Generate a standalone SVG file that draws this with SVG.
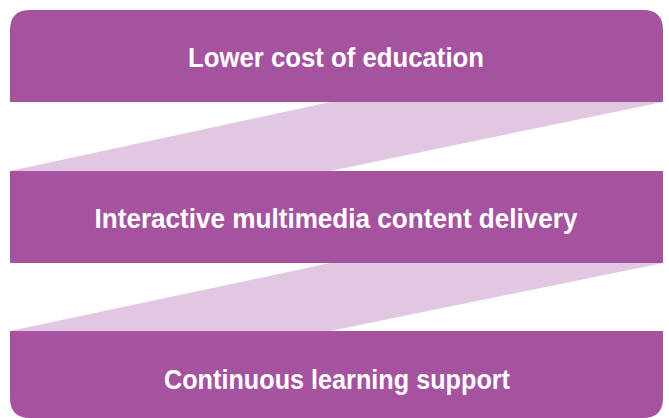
<svg xmlns="http://www.w3.org/2000/svg" width="669" height="418" viewBox="0 0 669 418">
<style>
.box{fill:#A5539F}
.rib{fill:#E1C7E1}
.t{fill:#FFFFFF;font-family:"Liberation Sans Narrow","Liberation Sans",Arial,sans-serif;font-weight:bold;font-size:27px;text-anchor:middle}
</style>
<rect width="669" height="418" fill="#FFFFFF"/>
<g id="connectors">
<polygon class="rib" points="330,102 663,102 330,171 10,171"/>
<polygon class="rib" points="330,263 663,263 330,331 10,331"/>
</g>
<g id="node1">
<path class="box" d="M10,102 L10,30 Q10,10 30,10 L643,10 Q663,10 663,30 L663,102 Z"/>
<text class="t" x="336" y="67" textLength="296" lengthAdjust="spacingAndGlyphs">Lower cost of education</text>
</g>
<g id="node2">
<rect class="box" x="10" y="171" width="653" height="92"/>
<text class="t" x="336" y="228" textLength="483" lengthAdjust="spacingAndGlyphs">Interactive multimedia content delivery</text>
</g>
<g id="node3">
<path class="box" d="M10,331 L663,331 L663,398 Q663,418 643,418 L30,418 Q10,418 10,398 Z"/>
<text class="t" x="337" y="389" textLength="346" lengthAdjust="spacingAndGlyphs">Continuous learning support</text>
</g>
</svg>
